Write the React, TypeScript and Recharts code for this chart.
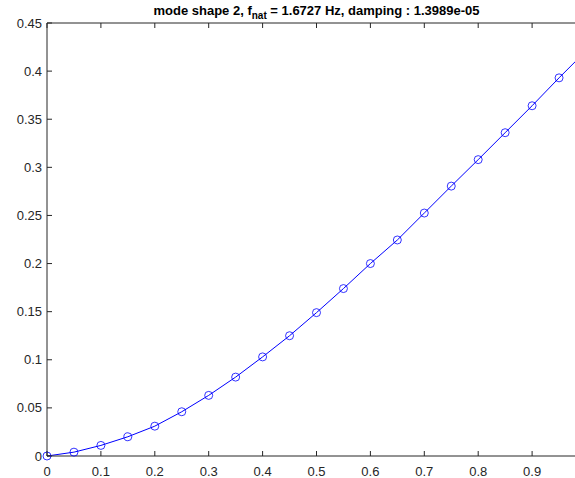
import { LineChart, Line, XAxis, YAxis } from 'recharts';

const xs = [0, 0.05, 0.1, 0.15, 0.2, 0.25, 0.3, 0.35, 0.4, 0.45, 0.5, 0.55, 0.6, 0.65, 0.7, 0.75, 0.8, 0.85, 0.9, 0.95, 1.0];
const modeShape = [0, 0.004, 0.011, 0.02, 0.031, 0.046, 0.063, 0.082, 0.103, 0.125, 0.149, 0.174, 0.2, 0.2245, 0.2525, 0.2805, 0.308, 0.336, 0.364, 0.393, 0.421];
const xTicks = [0, 0.1, 0.2, 0.3, 0.4, 0.5, 0.6, 0.7, 0.8, 0.9];
const yTicks = [0, 0.05, 0.1, 0.15, 0.2, 0.25, 0.3, 0.35, 0.4, 0.45];

const data = xs.map((x, i) => ({ x, y: modeShape[i] }));

const font = 'Liberation Sans, Arial, Helvetica, sans-serif';
const axisColor = '#262626';
const fmt = (v: number) => String(Math.round(v * 100) / 100);

// matlab-style ticks pointing into the plot
const BottomTick = ({ x, y, payload }: any) => (
  <g>
    <path d={`M${x},${y}v-5`} style={{ stroke: axisColor, strokeWidth: 1 }} />
    <text x={x} y={y + 20} textAnchor="middle" fill={axisColor} fontSize={13} fontFamily={font}>
      {fmt(payload.value)}
    </text>
  </g>
);

const TopTick = ({ x, y }: any) => <path d={`M${x},${y}v5`} style={{ stroke: axisColor, strokeWidth: 1 }} />;

const LeftTick = ({ x, y, payload }: any) => (
  <g>
    <path d={`M${x},${y}h5`} style={{ stroke: axisColor, strokeWidth: 1 }} />
    <text x={x - 5} y={y + 4.5} textAnchor="end" fill={axisColor} fontSize={13} fontFamily={font}>
      {fmt(payload.value)}
    </text>
  </g>
);

export default function App() {
  return (
    <div style={{ position: 'fixed', left: 0, top: 0, width: 575, height: 478, overflow: 'hidden', background: '#fff', fontFamily: font }}>
      <div
        style={{
          position: 'absolute',
          left: 47,
          width: 539,
          top: 3,
          textAlign: 'center',
          fontSize: 13,
          lineHeight: '15px',
          fontWeight: 'bold',
          color: '#000',
          whiteSpace: 'nowrap',
        }}
      >
        mode shape 2, f<sub style={{ fontSize: 10, lineHeight: 0 }}>nat</sub> = 1.6727 Hz, damping : 1.3989e-05
      </div>
      <LineChart width={600} height={478} data={data} margin={{ top: 18, right: 14, bottom: 0, left: 0 }}>
        <XAxis
          xAxisId="top"
          orientation="top"
          dataKey="x"
          type="number"
          domain={[0, 1]}
          ticks={xTicks}
          height={5}
          tick={<TopTick />}
          tickLine={false}
          tickSize={0}
          tickMargin={0}
          stroke={axisColor}
        />
        <XAxis
          xAxisId="bottom"
          dataKey="x"
          type="number"
          domain={[0, 1]}
          ticks={xTicks}
          height={22}
          tick={<BottomTick />}
          tickLine={false}
          tickSize={0}
          tickMargin={0}
          stroke={axisColor}
        />
        <YAxis
          type="number"
          domain={[0, 0.45]}
          ticks={yTicks}
          width={47}
          tick={<LeftTick />}
          tickLine={false}
          tickSize={0}
          tickMargin={0}
          stroke={axisColor}
        />
        <Line
          xAxisId="bottom"
          dataKey="y"
          type="linear"
          stroke="#0000ff"
          strokeWidth={1}
          dot={{ r: 4, fill: 'none', stroke: '#0000ff', strokeWidth: 0.8 }}
          activeDot={false}
          isAnimationActive={false}
        />
      </LineChart>
    </div>
  );
}
